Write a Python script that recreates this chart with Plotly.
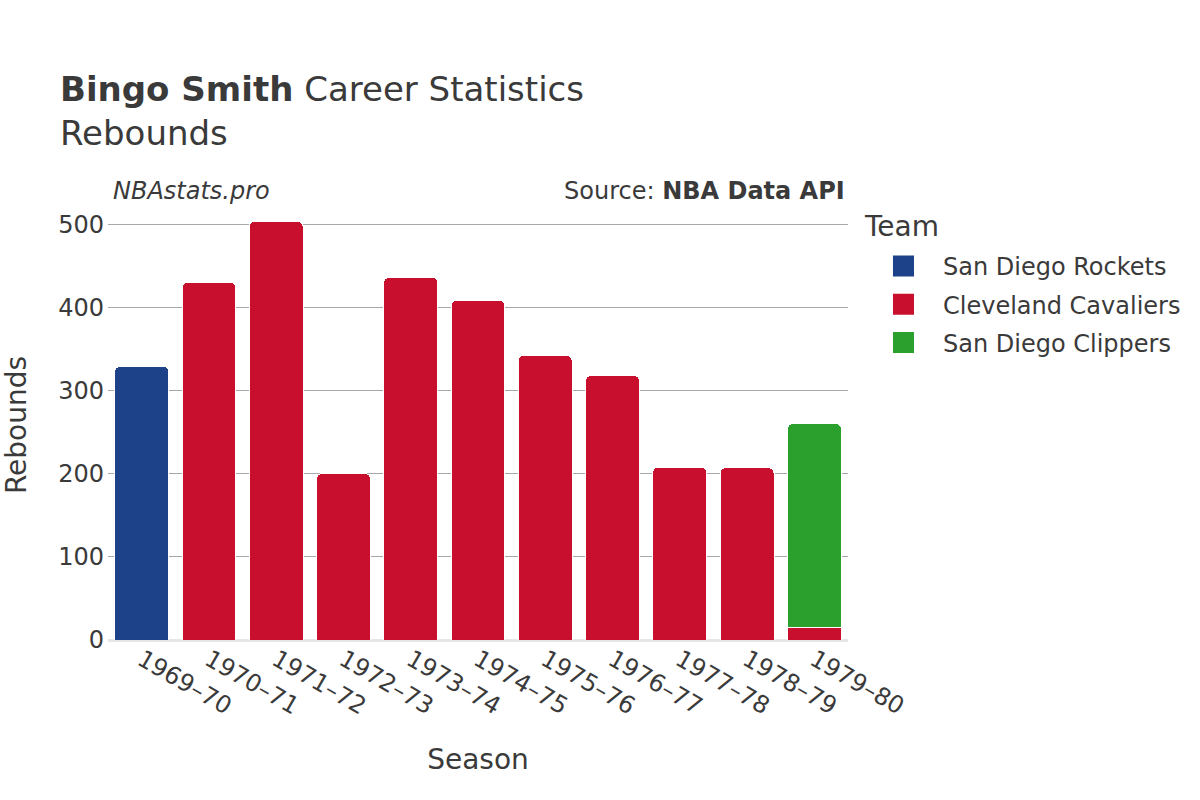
import plotly.graph_objects as go

seasons = ["1969–70", "1970–71", "1971–72", "1972–73", "1973–74", "1974–75",
           "1975–76", "1976–77", "1977–78", "1978–79", "1979–80"]

rockets_seasons = ["1969–70"]
rockets_reb = [329]

cavs_seasons = ["1970–71", "1971–72", "1972–73", "1973–74", "1974–75",
                "1975–76", "1976–77", "1977–78", "1978–79", "1979–80"]
cavs_reb = [430, 503, 200, 436, 408, 342, 318, 208, 207, 15]

clippers_seasons = ["1979–80"]
clippers_reb = [245]

teams = ["San Diego Rockets", "Cleveland Cavaliers", "San Diego Clippers"]
team_colors = ["#1d428a", "#c8102e", "#2ca02c"]

FONT = "DejaVu Sans"
TXT = "#3a3a3a"

fig = go.Figure()
for xs, ys, name, col in zip([rockets_seasons, cavs_seasons, clippers_seasons],
                             [rockets_reb, cavs_reb, clippers_reb], teams, team_colors):
    fig.add_trace(go.Bar(x=xs, y=ys, name=name, showlegend=False,
                         marker=dict(color=col, line=dict(color="white", width=1))))
# legend entries
for i, (name, col) in enumerate(zip(teams, team_colors)):
    fig.add_trace(go.Scatter(x=[None], y=[None], mode="markers", name=name,
                             legendgroup=f"g{i}",
                             marker=dict(symbol="square", size=16, color=col,
                                         line=dict(color=col, width=5))))

fig.update_layout(
    width=1200, height=800,
    barmode="stack", bargap=0.2, barcornerradius=5,
    paper_bgcolor="white", plot_bgcolor="white",
    font=dict(family=FONT, color=TXT, size=24),
    margin=dict(l=108, r=352, t=210, b=160),
    title=dict(text="<b>Bingo Smith</b> Career Statistics<br>Rebounds",
               x=0.05, xanchor="left", y=0.874, yanchor="top",
               font=dict(size=34, color=TXT)),
    xaxis=dict(title=dict(text="Season", font=dict(size=28), standoff=29),
               categoryorder="array", categoryarray=seasons, automargin=False,
               tickangle=30, tickfont=dict(size=24), showgrid=False),
    yaxis=dict(title=dict(text="Rebounds", font=dict(size=28), standoff=30),
               range=[0, 517], tickvals=[0, 100, 200, 300, 400, 500], automargin=False,
               ticklabelstandoff=3,
               gridcolor="#a8a8a8", gridwidth=1, zeroline=True,
               zerolinecolor="#e6e6e6", zerolinewidth=3, tickfont=dict(size=24)),
    legend=dict(x=1.0216, xanchor="left",
                y=0.9209, yanchor="top", font=dict(size=24), itemwidth=69,
                traceorder="grouped", tracegroupgap=4),
    annotations=[
        dict(text="<i>NBAstats.pro</i>", x=0.004, xref="paper", xanchor="left",
             y=1.044, yref="paper", yanchor="middle", showarrow=False,
             font=dict(size=24, color=TXT)),
        dict(text="Source: <b>NBA Data API</b>", x=0.998, xref="paper", xanchor="right",
             y=1.044, yref="paper", yanchor="middle", showarrow=False,
             font=dict(size=24, color=TXT)),
        dict(text="Team", x=(862 - 108) / 740, xref="paper", xanchor="left",
             y=(640 - 226) / 430, yref="paper", yanchor="middle", showarrow=False,
             font=dict(size=28, color=TXT)),
    ],
)

fig.write_html("out.html", config={"displayModeBar": False},
               post_script="document.body.style.margin='0';")
